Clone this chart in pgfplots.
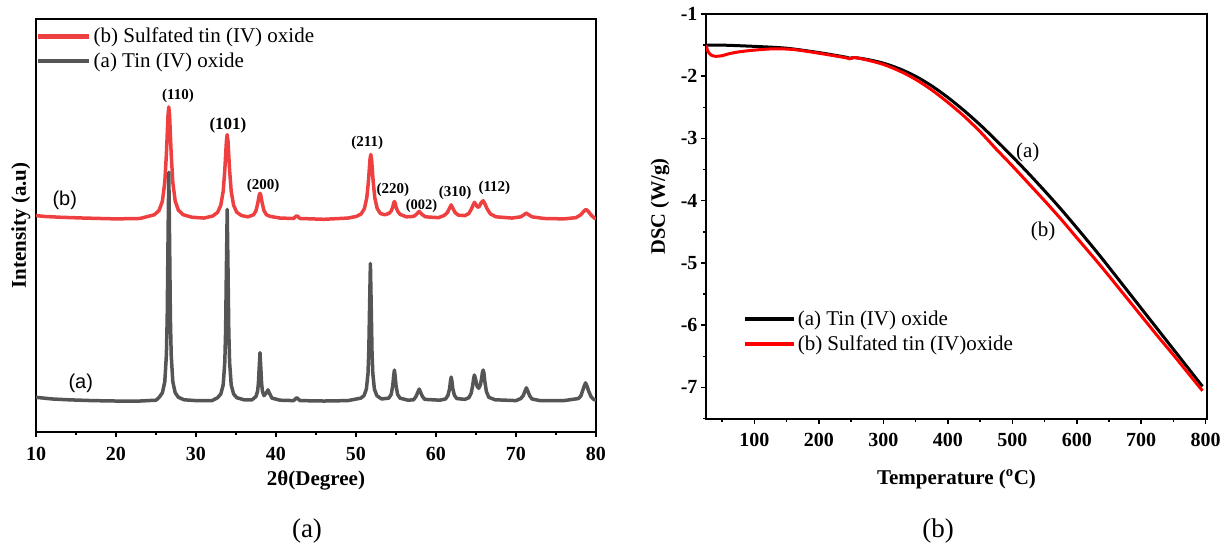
\documentclass[border=0pt]{standalone}
\usepackage{pgfplots}
\pgfplotsset{compat=1.18}
\usepackage{fontspec}
\setmainfont{Liberation Serif}
\newfontfamily\sansf{Liberation Sans}
\definecolor{xrdred}{RGB}{238,64,64}
\definecolor{xrdgray}{RGB}{85,85,85}
\begin{document}
\begin{tikzpicture}[x=1pt,y=1pt]
\path[use as bounding box] (0,0) rectangle (1224,544);
% ---------------- (a) XRD ----------------
\begin{axis}[
  at={(36pt,112pt)}, anchor=south west,
  width=560pt, height=413pt, scale only axis,
  xmin=10, xmax=80, ymin=0, ymax=100,
  xtick={10,20,...,80}, minor xtick={15,25,...,75},
  ytick=\empty,
  xtick pos=bottom, tick align=outside,
  major tick length=5pt, minor tick length=3pt,
  every tick/.style={line width=1.5pt, black},
  axis line style={line width=2pt},
  /pgf/number format/assume math mode=true,
  x tick label style={font=\bfseries\fontsize{20}{21}\selectfont, yshift=-7pt},
  xlabel={2θ(Degree)},
  xlabel style={font=\bfseries\fontsize{21}{23}\selectfont, at={(axis description cs:0.5,0)}, anchor=center, yshift=-48pt},
  ylabel={Intensity (a.u)},
  ylabel style={font=\bfseries\fontsize{21}{23}\selectfont, at={(axis description cs:-0.027,0.5)}, anchor=center},
  legend style={at={(axis description cs:0,1)}, anchor=north west, draw=none, fill=none,
    font=\fontsize{21}{23}\selectfont, yshift=-5pt, row sep=4.5pt, inner xsep=0pt},
  legend cell align=left,
  legend image code/.code={\draw[#1, line width=4.5pt] (0pt,0pt) -- (51pt,0pt);},
]
\addplot[xrdred, line width=3.5pt, line join=round] coordinates {
(10,52.4)(11,52.2)(13,52.0)(16,51.8)(20,51.6)(23,51.7)(24.8,52.6)(25.4,53.7)(25.8,55.9)(26.1,60.5)(26.3,67.3)(26.4,71.9)(26.5,76.6)(26.6,78.7)(26.7,76.6)(26.8,71.9)(26.9,67.3)(27.1,60.5)(27.4,55.9)(27.8,53.7)(28.4,52.6)(29.5,52.0)(31,51.8)(32.1,52.3)(32.7,53.2)(33.1,54.9)(33.4,58.3)(33.6,63.4)(33.7,66.9)(33.8,70.4)(33.9,72.0)(34.0,70.4)(34.1,66.9)(34.2,63.4)(34.4,58.3)(34.7,54.9)(35.1,53.2)(35.7,52.4)(36.5,52.1)(37.2,52.6)(37.5,53.6)(37.7,55.2)(37.8,56.2)(37.9,57.3)(38.0,57.8)(38.1,57.3)(38.2,56.2)(38.3,55.2)(38.5,53.6)(38.8,52.6)(39.3,52.2)(40.5,51.8)(42.2,51.7)(42.6,52.4)(43.0,51.7)(46,51.5)(49,51.8)(50.05,52.2)(50.65,52.8)(51.05,54.1)(51.35,56.7)(51.55,60.6)(51.65,63.3)(51.75,66.0)(51.85,67.2)(51.95,66.0)(52.05,63.3)(52.15,60.6)(52.35,56.7)(52.65,54.1)(53.05,52.9)(53.6,52.6)(54.1,52.9)(54.4,53.5)(54.6,54.5)(54.7,55.4)(54.8,55.8)(54.9,55.4)(55.0,54.5)(55.2,53.5)(55.5,52.7)(56.3,52.1)(57.2,52.2)(57.5,52.6)(57.7,53.0)(57.9,53.4)(58.1,53.0)(58.3,52.6)(58.7,52.1)(60.3,51.9)(61.0,52.4)(61.4,53.1)(61.7,54.2)(61.9,55.0)(62.1,54.2)(62.4,53.1)(62.8,52.5)(63.6,52.4)(64.1,52.9)(64.4,53.9)(64.65,55.0)(64.8,55.6)(64.95,55.2)(65.2,54.4)(65.4,54.6)(65.65,55.5)(65.9,56.0)(66.1,55.3)(66.4,54.0)(66.8,52.8)(67.5,52.1)(69.5,51.8)(70.6,52.1)(71.0,52.6)(71.3,53.0)(71.6,52.6)(72.0,52.1)(73.5,51.7)(76,51.6)(77.5,51.9)(78.1,52.6)(78.5,53.5)(78.75,53.9)(79.0,53.5)(79.4,52.5)(79.8,51.8)(80,51.6)
};
\addlegendentry{(b) Sulfated tin (IV) oxide}
\addplot[xrdgray, line width=3.5pt, line join=round] coordinates {
(10,8.4)(11,8.2)(12,8.0)(14,7.8)(17,7.6)(20,7.5)(23,7.5)(25,7.7)(25.4,8.4)(25.8,9.5)(26.1,12.2)(26.3,18.7)(26.4,27.5)(26.5,45.9)(26.6,62.9)(26.7,45.9)(26.8,27.5)(26.9,18.7)(27.1,12.2)(27.4,9.5)(27.8,8.4)(28.5,7.8)(30,7.6)(32,7.6)(32.7,8.3)(33.1,9.2)(33.4,11.4)(33.6,16.9)(33.7,24.3)(33.8,39.6)(33.9,53.9)(34.0,39.6)(34.1,24.3)(34.2,16.9)(34.4,11.4)(34.7,9.2)(35.1,8.3)(36,7.8)(37,7.8)(37.5,8.6)(37.7,9.9)(37.8,11.8)(37.9,15.6)(38.0,19.2)(38.1,15.6)(38.2,11.8)(38.3,9.9)(38.5,8.8)(38.8,9.5)(39.0,10.2)(39.2,9.3)(39.5,8.2)(40.5,7.7)(42.2,7.6)(42.6,8.3)(43.0,7.6)(46,7.5)(49,7.6)(50.6,8.2)(51.0,8.8)(51.3,10.4)(51.5,14.2)(51.6,19.6)(51.7,30.6)(51.8,40.8)(51.9,30.6)(52.0,19.6)(52.1,14.2)(52.3,10.4)(52.6,8.8)(53.2,8.0)(54.1,8.2)(54.4,9.1)(54.6,11.3)(54.7,13.5)(54.8,15.0)(54.9,13.5)(55.0,11.3)(55.2,9.1)(55.5,8.2)(56.5,7.7)(57.2,7.8)(57.5,8.6)(57.7,9.5)(57.9,10.4)(58.1,9.5)(58.3,8.6)(58.6,7.9)(60.5,7.7)(61.2,8.0)(61.5,8.9)(61.7,10.5)(61.8,12.2)(61.9,13.3)(62.0,12.2)(62.1,10.5)(62.3,8.9)(62.6,8.1)(63.6,7.9)(64.1,8.3)(64.4,9.4)(64.6,11.4)(64.7,12.9)(64.8,13.8)(64.95,12.8)(65.15,11.0)(65.35,10.6)(65.55,11.4)(65.7,13.0)(65.8,14.4)(65.9,15.0)(66.0,14.2)(66.1,12.3)(66.3,9.8)(66.6,8.4)(67.4,7.8)(70,7.6)(70.6,8.1)(70.9,8.8)(71.1,9.8)(71.3,10.7)(71.5,9.8)(71.7,8.8)(72.0,8.0)(73,7.6)(76,7.6)(77.8,8.1)(78.1,8.7)(78.3,9.8)(78.5,11.0)(78.7,11.9)(78.9,11.0)(79.1,9.8)(79.4,8.5)(79.7,7.9)(80,7.7)
};
\addlegendentry{(a) Tin (IV) oxide}
\node[font=\bfseries\fontsize{15}{16}\selectfont] at (axis cs:27.75,81.3) {(110)};
\node[font=\bfseries\fontsize{17}{18}\selectfont] at (axis cs:34.0,74.2) {(101)};
\node[font=\bfseries\fontsize{15}{16}\selectfont] at (axis cs:38.4,59.5) {(200)};
\node[font=\bfseries\fontsize{15}{16}\selectfont] at (axis cs:51.4,69.9) {(211)};
\node[font=\bfseries\fontsize{15}{16}\selectfont] at (axis cs:54.6,58.7) {(220)};
\node[font=\bfseries\fontsize{14.5}{15}\selectfont] at (axis cs:58.2,54.6) {(002)};
\node[font=\bfseries\fontsize{15}{16}\selectfont] at (axis cs:62.4,57.8) {(310)};
\node[font=\bfseries\fontsize{15}{16}\selectfont] at (axis cs:67.3,59.0) {(112)};
\node[font=\sansf\fontsize{20}{22}\selectfont] at (axis cs:13.6,56.1) {(b)};
\node[font=\sansf\fontsize{20}{22}\selectfont] at (axis cs:15.6,11.7) {(a)};
\end{axis}
% ---------------- (b) DSC ----------------
\begin{axis}[
  at={(706pt,125.5pt)}, anchor=south west,
  width=501pt, height=404.5pt, scale only axis,
  xmin=25, xmax=802, ymin=-7.5, ymax=-1,
  xtick={100,200,...,800}, minor xtick={50,150,...,750},
  ytick={-7,-6,-5,-4,-3,-2,-1}, yticklabels={-7,-6,-5,-4,-3,-2,-1},
  minor ytick={-7.5,-6.5,-5.5,-4.5,-3.5,-2.5,-1.5},
  xtick pos=bottom, ytick pos=left, tick align=outside,
  major tick length=5pt, minor tick length=3pt,
  every tick/.style={line width=1.5pt, black},
  axis line style={line width=2pt},
  /pgf/number format/assume math mode=true,
  tick label style={font=\bfseries\fontsize{20}{21}\selectfont},
  x tick label style={yshift=-6pt},
  xlabel={Temperature (\textsuperscript{o}C)},
  xlabel style={font=\bfseries\fontsize{21}{23}\selectfont, at={(axis description cs:0.5,0)}, anchor=center, yshift=-60.5pt},
  ylabel={DSC (W/g)},
  ylabel style={font=\bfseries\fontsize{20.5}{22}\selectfont, at={(axis description cs:-0.092,0.524)}, anchor=center},
  legend style={at={(axis description cs:0.074,0.276)}, anchor=north west, draw=none, fill=none,
    font=\fontsize{21}{23}\selectfont, row sep=4.5pt, inner xsep=0pt},
  legend cell align=left,
  legend image code/.code={\draw[#1, line width=3.5pt] (0pt,0pt) -- (49pt,0pt);},
]
\addplot[black, line width=3pt, smooth, tension=0.5] coordinates {
(25,-1.50)(50,-1.50)(100,-1.52)(150,-1.55)(200,-1.62)(240,-1.69)(248,-1.71)(255,-1.70)(275,-1.73)(300,-1.79)(325,-1.88)(350,-2.00)(375,-2.155)(400,-2.34)(425,-2.55)(450,-2.78)(475,-3.03)(500,-3.29)(525,-3.56)(550,-3.84)(575,-4.13)(600,-4.435)(630,-4.81)(650,-5.07)(675,-5.40)(700,-5.73)(725,-6.06)(750,-6.39)(775,-6.72)(795,-6.985)
};
\addlegendentry{(a) Tin (IV) oxide}
\addplot[red, line width=3pt, smooth, tension=0.5] coordinates {
(25,-1.50)(28,-1.60)(33,-1.66)(40,-1.68)(50,-1.67)(60,-1.64)(75,-1.61)(100,-1.58)(130,-1.56)(160,-1.57)(200,-1.63)(240,-1.70)(248,-1.72)(255,-1.70)(275,-1.74)(300,-1.81)(325,-1.915)(350,-2.05)(375,-2.22)(400,-2.42)(425,-2.64)(450,-2.89)(475,-3.17)(500,-3.44)(525,-3.72)(550,-4.00)(575,-4.29)(600,-4.595)(630,-4.96)(650,-5.21)(675,-5.53)(700,-5.85)(725,-6.17)(750,-6.48)(775,-6.80)(795,-7.055)
};
\addlegendentry{(b) Sulfated tin (IV)oxide}
\node[font=\fontsize{21}{22}\selectfont] at (axis cs:524,-3.22) {(a)};
\node[font=\fontsize{21}{22}\selectfont] at (axis cs:548,-4.50) {(b)};
\end{axis}
\node[font=\fontsize{27}{29}\selectfont] at (307,13) {(a)};
\node[font=\fontsize{27}{29}\selectfont] at (938,13) {(b)};
\end{tikzpicture}
\end{document}
